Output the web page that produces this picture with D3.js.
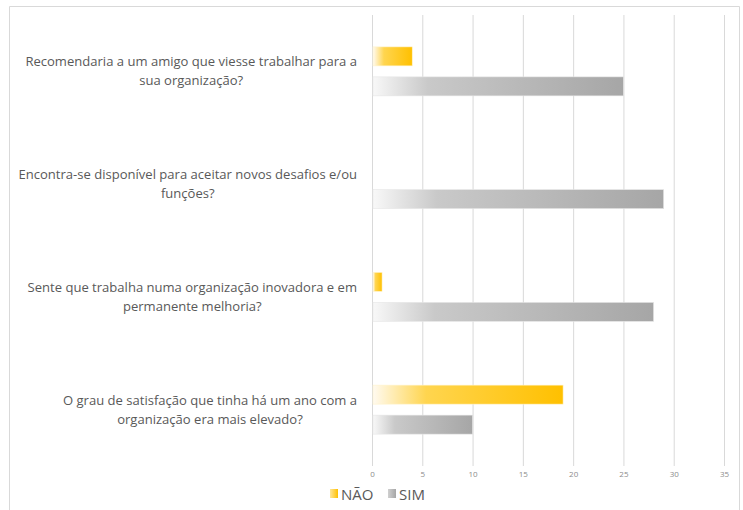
<!DOCTYPE html>
<html><head><meta charset="utf-8">
<script src="https://cdn.jsdelivr.net/npm/d3@7"></script>
<style>body{margin:0;background:#fff}svg{display:block}text{font-family:"Open Sans",sans-serif}</style>
</head><body><svg id="c" width="743" height="510"></svg>
<script>
const categories = [
  ["Recomendaria a um amigo que viesse trabalhar para a", "sua organização?"],
  ["Encontra-se disponível para aceitar novos desafios e/ou", "funções?"],
  ["Sente que trabalha numa organização inovadora e em", "permanente melhoria?"],
  ["O grau de satisfação que tinha há um ano com a", "organização era mais elevado?"]
];
const seriesNames = ["NÃO", "SIM"];
const naoValues = [4, 0, 1, 19];
const simValues = [25, 29, 28, 10];
const tickValues = [0, 5, 10, 15, 20, 25, 30, 35];

const svg = d3.select("#c");
const defs = svg.append("defs");
function grad(id, stops) {
  const g = defs.append("linearGradient").attr("id", id).attr("x1", 0).attr("x2", 1).attr("y1", 0).attr("y2", 0);
  stops.forEach(s => g.append("stop").attr("offset", s[0]).attr("stop-color", s[1]));
}
grad("gNao", [[0, "#fffaf0"], [0.28, "#ffd54f"], [1, "#ffc000"]]);
grad("gSim", [[0, "#f8f8f8"], [0.22, "#c9c9c9"], [1, "#a6a6a6"]]);
grad("lNao", [[0, "#ffe699"], [1, "#ffc000"]]);
grad("lSim", [[0, "#d0d0d0"], [1, "#a6a6a6"]]);

// outer frame
svg.append("path").attr("d", "M9.5,520 V6.5 H739.5 V520").attr("fill", "none").attr("stroke", "#d9d9d9");

const x = d3.scaleLinear().domain([0, 35]).range([372, 724]);
const y = d3.scaleBand().domain(d3.range(categories.length)).range([15, 466]);

// gridlines
svg.append("g").selectAll("line").data(tickValues).join("line")
  .attr("x1", d => x(d) + 0.5).attr("x2", d => x(d) + 0.5)
  .attr("y1", 15).attr("y2", 466)
  .attr("stroke", "#d9d9d9").attr("stroke-width", 1);

// axis labels
const ax = svg.append("g").attr("transform", "translate(0,477)")
  .call(d3.axisBottom(x).tickValues(tickValues).tickSize(0).tickPadding(0));
ax.select(".domain").remove();
ax.selectAll("text").attr("fill", "#8c8c8c").attr("font-size", 8).attr("dy", 0);

const barH = 19, gap = 11;
const g = svg.append("g");
categories.forEach((c, i) => {
  const cy = y(i) + y.bandwidth() / 2;
  const yN = cy - gap / 2 - barH, yS = cy + gap / 2;
  if (naoValues[i] > 0)
    g.append("rect").attr("x", x(0) + 1).attr("y", yN).attr("width", x(naoValues[i]) - x(0) - 1).attr("height", barH)
      .attr("fill", "url(#gNao)").attr("stroke", "#fff3cc").attr("stroke-width", 0.6);
  if (simValues[i] > 0)
    g.append("rect").attr("x", x(0) + 1).attr("y", yS).attr("width", x(simValues[i]) - x(0) - 1).attr("height", barH)
      .attr("fill", "url(#gSim)").attr("stroke", "#e6e6e6").attr("stroke-width", 0.6);
  // label
  const t = svg.append("g");
  const lines = c.map((s, k) => t.append("text").text(s).attr("font-size", 13.05).attr("fill", "#595959")
    .attr("text-anchor", "middle").attr("y", cy - 9.5 + 4.5 + k * 19));
  const w = d3.max(lines, l => l.node().getComputedTextLength());
  lines.forEach(l => l.attr("x", 357 - w / 2));
});

// legend
const leg = svg.append("g");
[["lNao", 330, seriesNames[0]], ["lSim", 388, seriesNames[1]]].forEach(([id, lx, name]) => {
  leg.append("rect").attr("x", lx).attr("y", 489).attr("width", 8).attr("height", 9).attr("fill", `url(#${id})`);
  leg.append("text").attr("x", lx + 11).attr("y", 499.5).text(name).attr("font-size", 15).attr("fill", "#595959");
});
</script></body></html>
